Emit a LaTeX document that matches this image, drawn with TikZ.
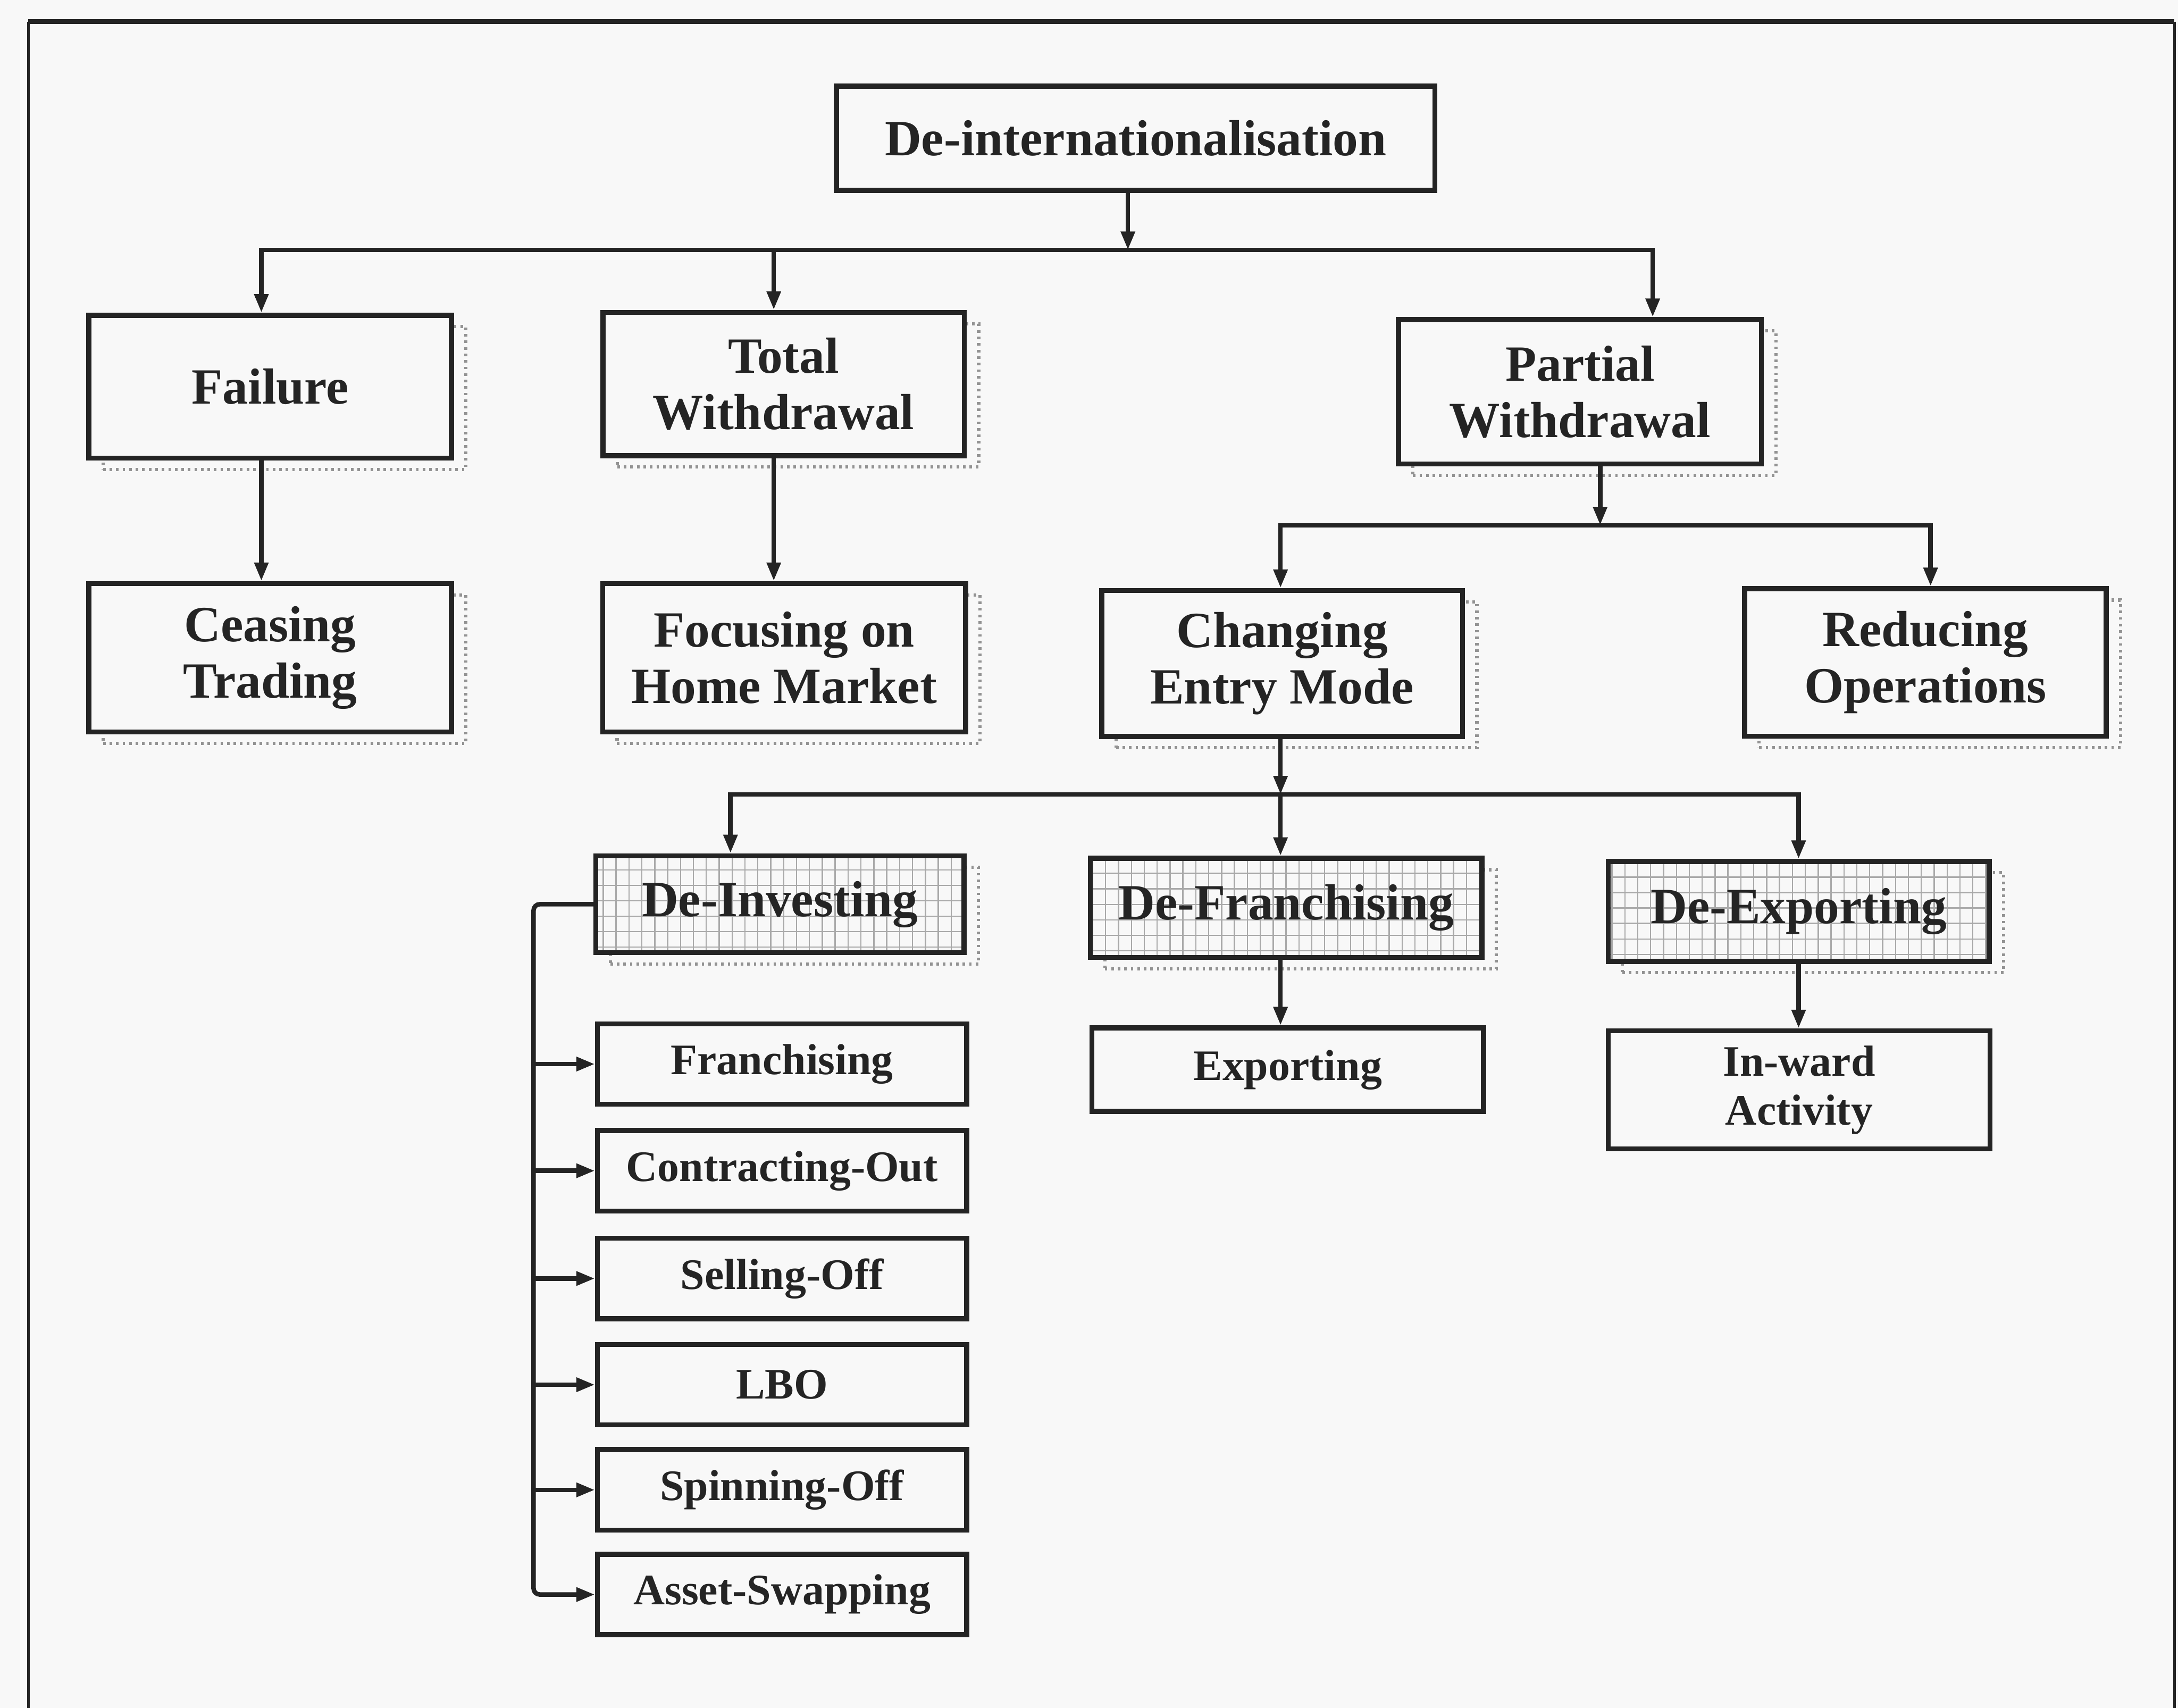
\documentclass[tikz,border=0pt]{standalone}
\usepackage{fontspec}
\setmainfont{Liberation Serif}
\usetikzlibrary{arrows.meta,shadows}

\definecolor{ink}{HTML}{242424}
\definecolor{paper}{HTML}{F8F8F8}
\definecolor{hatch}{HTML}{A9A9A9}

\tikzset{
  box/.style={draw=ink, line width=2.8pt, fill=paper, text=ink, align=center,
    inner sep=0pt, font=\fontsize{28}{31}\selectfont\bfseries},
  bw/.style 2 args={minimum width=#1cm, minimum height=#2cm},
  small/.style={font=\fontsize{24}{27}\selectfont\bfseries},
  shade/.style={general shadow={shadow xshift=0.28cm, shadow yshift=-0.22cm,
    draw=gray!85, line width=1.8pt, dash pattern=on 1.4pt off 2.2pt}},
  gridfill/.style={path picture={\draw[hatch, line width=0.7pt, xstep=0.25, ystep=0.3]
    (path picture bounding box.south west) grid (path picture bounding box.north east);}},
  link/.style={draw=ink, line width=2.5pt},
  arr/.style={link, -{Triangle[length=0.36cm, width=0.26cm]}},
}

\begin{document}
\begin{tikzpicture}
% page and frame
\useasboundingbox (0,0) rectangle (42.25,-33.13);
\fill[paper] (0,0) rectangle (42.25,-33.13);
\draw[ink, line width=1.4pt] (0.55,-33.13) -- (0.55,-0.42);
\draw[ink, line width=1.4pt] (42.18,-0.42) -- (42.18,-33.13);
\draw[ink, line width=2.6pt] (0.55,-0.42) -- (42.18,-0.42);

% top level
\node[box, bw={11.61}{2.02}] (dint) at (22.03,-2.68) {De-internationalisation};

% second level
\node[box, shade, bw={7.04}{2.77}] (fail) at (5.24,-7.50) {Failure};
\node[box, shade, bw={7.01}{2.78}] (total) at (15.20,-7.45) {Total\\Withdrawal};
\node[box, shade, bw={7.04}{2.80}] (partial) at (30.65,-7.60) {Partial\\Withdrawal};

% third level
\node[box, shade, bw={7.04}{2.88}] (ceasing) at (5.24,-12.76) {Ceasing\\Trading};
\node[box, shade, bw={7.04}{2.88}] (focus) at (15.21,-12.76) {Focusing on\\Home Market};
\node[box, shade, bw={7.00}{2.83}] (change) at (24.87,-12.87) {Changing\\Entry Mode};
\node[box, shade, bw={7.01}{2.86}] (reduce) at (37.35,-12.85) {Reducing\\Operations};

% entry mode changes
\node[box, shade, gridfill, bw={7.14}{1.88}] (deinv) at (15.13,-17.54) {De-Investing};
\node[box, shade, gridfill, bw={7.60}{1.92}] (defran) at (24.95,-17.61) {De-Franchising};
\node[box, shade, gridfill, bw={7.39}{1.94}] (deexp) at (34.89,-17.68) {De-Exporting};

\node[box, small, bw={7.60}{1.62}] (export) at (24.98,-20.75) {Exporting};
\node[box, small, bw={7.41}{2.29}] (inward) at (34.90,-21.14) {In-ward\\Activity};

% de-investing options
\node[box, small, bw={7.16}{1.56}] (fr)  at (15.17,-20.64) {Franchising};
\node[box, small, bw={7.16}{1.56}] (co)  at (15.17,-22.71) {Contracting-Out};
\node[box, small, bw={7.16}{1.56}] (so)  at (15.17,-24.80) {Selling-Off};
\node[box, small, bw={7.16}{1.56}] (lbo) at (15.17,-26.86) {LBO};
\node[box, small, bw={7.16}{1.56}] (spo) at (15.17,-28.90) {Spinning-Off};
\node[box, small, bw={7.16}{1.56}] (as)  at (15.17,-30.93) {Asset-Swapping};

% junction points
\coordinate (t0) at (21.88,-4.85);
\coordinate (tL) at (5.07,-4.85);
\coordinate (tM) at (15.01,-4.85);
\coordinate (tR) at (32.06,-4.85);
\coordinate (p0) at (31.04,-10.19);
\coordinate (pL) at (24.84,-10.19);
\coordinate (pR) at (37.45,-10.19);
\coordinate (c0) at (24.84,-15.41);
\coordinate (cL) at (14.17,-15.41);
\coordinate (cR) at (34.89,-15.41);
\coordinate (spine) at (10.35,-17.49);

% connectors: first split
\draw[arr] (dint.south -| t0) -- (t0);
\draw[arr] (t0) -| (tL |- fail.north);
\draw[arr] (t0) -| (tR |- partial.north);
\draw[arr] (tM) -- (tM |- total.north);
\draw[arr] (fail.south -| tL) -- (ceasing.north -| tL);
\draw[arr] (total.south -| tM) -- (focus.north -| tM);

% partial withdrawal split
\draw[arr] (partial.south -| p0) -- (p0);
\draw[arr] (p0) -| (pL |- change.north);
\draw[arr] (p0) -| (pR |- reduce.north);

% entry mode split
\draw[arr] (change.south -| c0) -- (c0);
\draw[arr] (c0) -| (cL |- deinv.north);
\draw[arr] (c0) -- (c0 |- defran.north);
\draw[arr] (c0) -| (cR |- deexp.north);
\draw[arr] (defran.south -| c0) -- (export.north -| c0);
\draw[arr] (deexp.south -| cR) -- (inward.north -| cR);

% de-investing spine
\draw[arr, rounded corners=0.12cm] (deinv.west) -| (spine |- as.west) -- (as.west);
\foreach \n in {fr,co,so,lbo,spo}
  \draw[arr] (spine |- \n.west) -- (\n.west);
\end{tikzpicture}
\end{document}
